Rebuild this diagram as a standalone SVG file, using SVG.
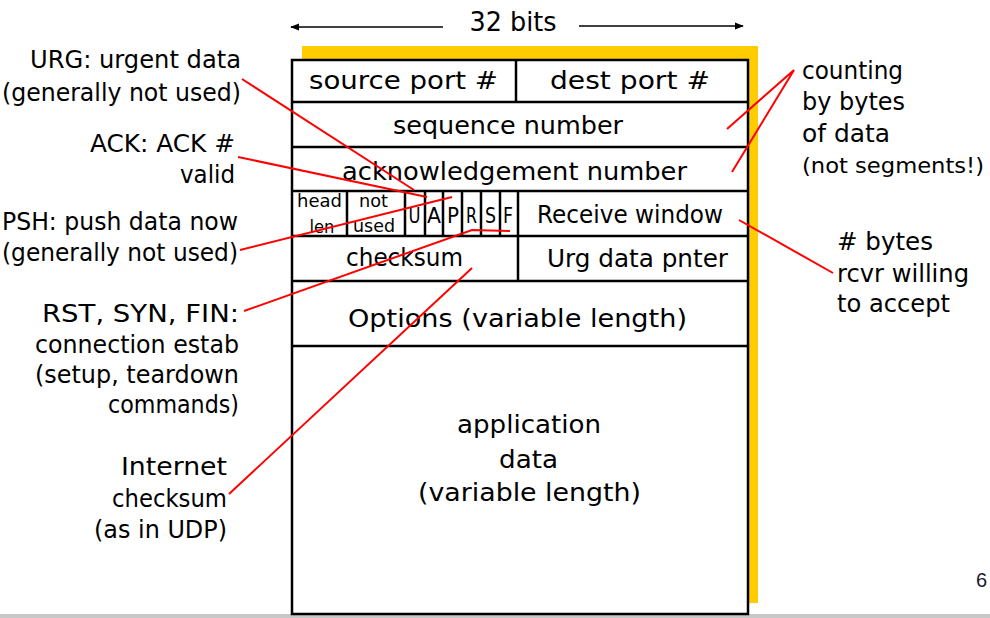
<svg xmlns="http://www.w3.org/2000/svg" width="990" height="618" viewBox="0 0 990 618">
<defs>
<marker id="ah" viewBox="0 0 10 10" refX="9" refY="5" markerWidth="9" markerHeight="9" markerUnits="userSpaceOnUse" orient="auto"><path d="M0,1 L10,5 L0,9 Z" fill="#000"/></marker>
<style>
text{font-family:"DejaVu Sans","Liberation Sans",sans-serif;fill:#000}
.b{font-size:25px;text-anchor:middle}
.s{font-size:18px;text-anchor:middle}
.f{font-size:21px;text-anchor:middle}
.l{font-size:24px;text-anchor:end}
.r{font-size:24px;text-anchor:start}
.ln{stroke:#000;stroke-width:2.5;fill:none}
.box{stroke:#000;stroke-width:2.5;fill:#fff}
.red{stroke:#ff0000;stroke-width:2;fill:none}
</style>
</defs>
<rect x="0" y="0" width="990" height="618" fill="#fff"/>
<rect x="0" y="614" width="990" height="4" fill="#c8c8c8"/>
<g id="width-indicator">
<line x1="443" y1="27" x2="291" y2="27" stroke="#000" stroke-width="1.6" marker-end="url(#ah)"/>
<line x1="579" y1="26" x2="743" y2="26" stroke="#000" stroke-width="1.6" marker-end="url(#ah)"/>
<text x="513" y="31" font-size="26" text-anchor="middle" textLength="87" lengthAdjust="spacingAndGlyphs">32 bits</text>
</g>
<g id="segment">
<rect x="302" y="46" width="456" height="557" fill="#ffcc00"/>
<rect x="292" y="60" width="456" height="554" class="box"/>
<path class="ln" d="M292,102H748M292,147H748M292,191H748M292,236H748M292,281H748M292,346H748M516,60V102M347,191V236M405,191V236M425,191V236M443,191V236M462,191V236M481,191V236M500,191V236M518,191V281"/>
</g>
<g id="source-port"><text class="b" x="403.5" y="89" textLength="189" lengthAdjust="spacingAndGlyphs">source port #</text></g>
<g id="dest-port"><text class="b" x="630" y="89" textLength="160" lengthAdjust="spacingAndGlyphs">dest port #</text></g>
<g id="sequence-number"><text class="b" x="508" y="134" textLength="230" lengthAdjust="spacingAndGlyphs">sequence number</text></g>
<g id="ack-number"><text class="b" x="514.5" y="180" textLength="345" lengthAdjust="spacingAndGlyphs">acknowledgement number</text></g>
<g id="head-len"><text class="s" x="319.5" y="207" textLength="45" lengthAdjust="spacingAndGlyphs">head</text><text class="s" x="322" y="233" textLength="25" lengthAdjust="spacingAndGlyphs">len</text></g>
<g id="not-used"><text class="s" x="373.5" y="207" textLength="29" lengthAdjust="spacingAndGlyphs">not</text><text class="s" x="374" y="232" textLength="42" lengthAdjust="spacingAndGlyphs">used</text></g>
<g id="flag-U"><text class="f" x="414.5" y="223" textLength="12" lengthAdjust="spacingAndGlyphs">U</text></g>
<g id="flag-A"><text class="f" x="434" y="223" textLength="14" lengthAdjust="spacingAndGlyphs">A</text></g>
<g id="flag-P"><text class="f" x="453" y="223" textLength="12" lengthAdjust="spacingAndGlyphs">P</text></g>
<g id="flag-R"><text class="f" x="471.5" y="223" textLength="11" lengthAdjust="spacingAndGlyphs">R</text></g>
<g id="flag-S"><text class="f" x="490.5" y="223" textLength="11" lengthAdjust="spacingAndGlyphs">S</text></g>
<g id="flag-F"><text class="f" x="508" y="223" textLength="10" lengthAdjust="spacingAndGlyphs">F</text></g>
<g id="receive-window"><text class="b" x="630" y="223" textLength="186" lengthAdjust="spacingAndGlyphs">Receive window</text></g>
<g id="checksum"><text class="b" x="404.5" y="266" textLength="117" lengthAdjust="spacingAndGlyphs">checksum</text></g>
<g id="urg-pointer"><text class="b" x="637.5" y="267" textLength="181" lengthAdjust="spacingAndGlyphs">Urg data pnter</text></g>
<g id="options"><text class="b" x="517.5" y="327" textLength="339" lengthAdjust="spacingAndGlyphs">Options (variable length)</text></g>
<g id="app-data">
<text class="b" x="529" y="433" textLength="144" lengthAdjust="spacingAndGlyphs">application</text>
<text class="b" x="528.5" y="468" textLength="59" lengthAdjust="spacingAndGlyphs">data</text>
<text class="b" x="529.5" y="501" textLength="223" lengthAdjust="spacingAndGlyphs">(variable length)</text>
</g>
<g id="label-urg">
<text class="l" x="241" y="68" textLength="211" lengthAdjust="spacingAndGlyphs">URG: urgent data</text>
<text class="l" x="241" y="101" textLength="239" lengthAdjust="spacingAndGlyphs">(generally not used)</text>
</g>
<g id="label-ack">
<text class="l" x="235" y="152" textLength="145" lengthAdjust="spacingAndGlyphs">ACK: ACK #</text>
<text class="l" x="235" y="183" textLength="55" lengthAdjust="spacingAndGlyphs">valid</text>
</g>
<g id="label-psh">
<text class="l" x="238" y="230" textLength="236" lengthAdjust="spacingAndGlyphs">PSH: push data now</text>
<text class="l" x="238" y="261" textLength="236" lengthAdjust="spacingAndGlyphs">(generally not used)</text>
</g>
<g id="label-rst">
<text class="l" x="239" y="322" textLength="197" lengthAdjust="spacingAndGlyphs">RST, SYN, FIN:</text>
<text class="l" x="239" y="353" textLength="204" lengthAdjust="spacingAndGlyphs">connection estab</text>
<text class="l" x="239" y="383" textLength="204" lengthAdjust="spacingAndGlyphs">(setup, teardown</text>
<text class="l" x="239" y="413" textLength="131" lengthAdjust="spacingAndGlyphs">commands)</text>
</g>
<g id="label-checksum">
<text class="l" x="227" y="475" textLength="106" lengthAdjust="spacingAndGlyphs">Internet</text>
<text class="l" x="227" y="507" textLength="115" lengthAdjust="spacingAndGlyphs">checksum</text>
<text class="l" x="227" y="538" textLength="133" lengthAdjust="spacingAndGlyphs">(as in UDP)</text>
</g>
<g id="label-counting">
<text class="r" x="802" y="79" textLength="101" lengthAdjust="spacingAndGlyphs">counting</text>
<text class="r" x="802" y="110" textLength="103" lengthAdjust="spacingAndGlyphs">by bytes</text>
<text class="r" x="802" y="142" textLength="88" lengthAdjust="spacingAndGlyphs">of data</text>
<text x="802" y="173" style="font-size:21.5px" textLength="182" lengthAdjust="spacingAndGlyphs">(not segments!)</text>
</g>
<g id="label-window">
<text class="r" x="837" y="250" textLength="96" lengthAdjust="spacingAndGlyphs"># bytes</text>
<text class="r" x="837" y="282" textLength="132" lengthAdjust="spacingAndGlyphs">rcvr willing</text>
<text class="r" x="837" y="312" textLength="113" lengthAdjust="spacingAndGlyphs">to accept</text>
</g>
<g id="connectors">
<path class="red" d="M242,79 L414,190"/>
<path class="red" d="M238,157 L427,197"/>
<path class="red" d="M240,250 L452,197"/>
<path class="red" d="M244,311 L472,230 L510,231"/>
<path class="red" d="M229,494 L472,268"/>
<path class="red" d="M727,129 L794,70 L732,172"/>
<path class="red" d="M739,220 L833,273"/>
</g>
<text x="976" y="587" font-size="20" style="font-family:'Liberation Sans',sans-serif;fill:#1a1a2e">6</text>
</svg>
